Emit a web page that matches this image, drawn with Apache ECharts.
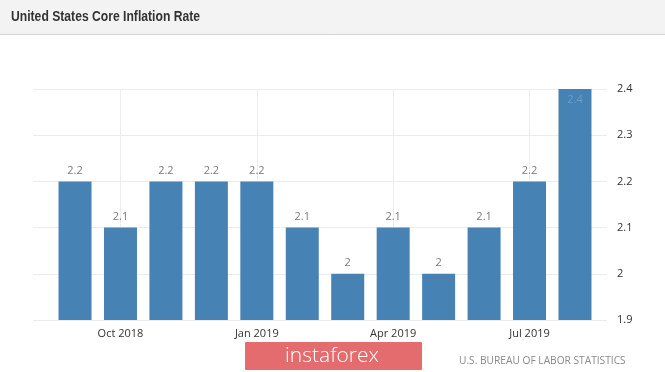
<!DOCTYPE html>
<html>
<head>
<meta charset="utf-8">
<script src="https://cdn.jsdelivr.net/npm/echarts@6/dist/echarts.min.js"></script>
<style>
html,body{margin:0;padding:0;background:#fff;}
#c{width:665px;height:372px;}
</style>
</head>
<body>
<div id="c"></div>
<script>
const categories = ['Sep 2018','Oct 2018','Nov 2018','Dec 2018','Jan 2019','Feb 2019','Mar 2019','Apr 2019','May 2019','Jun 2019','Jul 2019','Aug 2019'];
const values = [2.2, 2.1, 2.2, 2.2, 2.2, 2.1, 2.0, 2.1, 2.0, 2.1, 2.2, 2.4];
const tickLabels = ['Oct 2018','Jan 2019','Apr 2019','Jul 2019'];
const yTicks = [1.9, 2.0, 2.1, 2.2, 2.3, 2.4];

const yMin = yTicks[0], yMax = yTicks[yTicks.length - 1];
const chart = echarts.init(document.getElementById('c'));
const font = '"Open Sans", "DejaVu Sans", sans-serif';

chart.setOption({
  animation: false,
  backgroundColor: '#fff',
  title: [
    {text: 'U.S. BUREAU OF LABOR STATISTICS', left: 454, top: 351,
     textStyle: {fontFamily: font, fontWeight: 'normal', fontSize: 10.2, color: '#8a8a8a'}}
  ],
  graphic: [
    {type: 'rect', z: -10, shape: {x: 0, y: 0, width: 665, height: 34}, style: {fill: '#f3f3f3'}},
    {type: 'line', z: -10, shape: {x1: 0, y1: 34.5, x2: 665, y2: 34.5}, style: {stroke: '#d4d4d4', lineWidth: 1}},
    {type: 'text', z: 5, x: 11, y: 17, scaleX: 0.81, scaleY: 1,
     style: {text: 'United States Core Inflation Rate', fill: '#333',
       font: 'bold 15px "Liberation Sans", Arial, sans-serif', textAlign: 'left', textVerticalAlign: 'middle'}},
    {type: 'rect', z: 10, shape: {x: 245, y: 342, width: 177, height: 28, r: 1}, style: {fill: '#e46c6f'}},
    {type: 'text', z: 11, x: 332, y: 356, style: {text: 'instaforex', fill: '#fff', font: '300 21px "Open Sans", sans-serif', textAlign: 'center', textVerticalAlign: 'middle'}}
  ],
  grid: [
    {left: 52.3, right: 67.3, top: 89, bottom: 52},
    {left: 33, right: 58, top: 89, bottom: 52}
  ],
  xAxis: [
    {type: 'category', gridIndex: 0, data: categories,
     axisLine: {show: false}, axisTick: {show: false}, splitLine: {show: false},
     axisLabel: {interval: 0, margin: 8, color: '#333', fontSize: 11, fontFamily: font,
       formatter: v => tickLabels.includes(v) ? v : ''}},
    {type: 'value', gridIndex: 1, min: 0, max: 1, show: false}
  ],
  yAxis: [
    {type: 'value', gridIndex: 0, min: yMin, max: yMax, show: false},
    {type: 'value', gridIndex: 1, min: yMin, max: yMax, interval: 0.1, position: 'right',
     axisLine: {show: false}, axisTick: {show: false},
     splitLine: {lineStyle: {color: '#ececec', width: 1}},
     axisLabel: {margin: 10, color: '#333', fontSize: 11, fontFamily: font,
       formatter: v => String(+v.toFixed(1))}}
  ],
  series: [{
    type: 'bar', xAxisIndex: 0, yAxisIndex: 0, barWidth: 33,
    itemStyle: {color: '#4682b4'},
    label: {show: true, position: 'top', distance: 5, color: '#7a7a7a', fontSize: 11, fontFamily: font},
    data: values.map((v, i) => i === values.length - 1
      ? {value: v, label: {position: 'insideTop', distance: 5, color: '#6f9cc6'}}
      : v),
    markLine: {
      silent: true, symbol: 'none', label: {show: false}, z: 0,
      lineStyle: {color: '#ececec', type: 'solid', width: 1},
      data: tickLabels.map(t => ({xAxis: t}))
    }
  }]
});
</script>
</body>
</html>
